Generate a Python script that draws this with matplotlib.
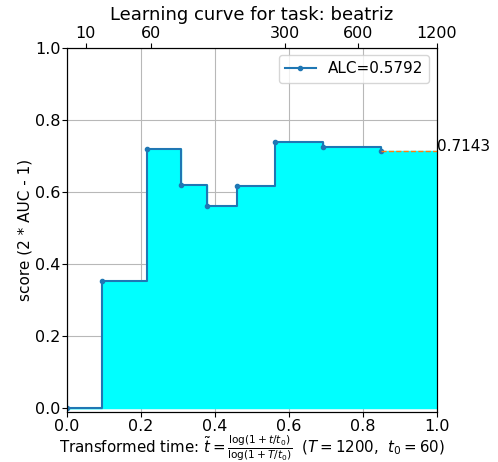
import numpy as np
import matplotlib
matplotlib.use('Agg')
import matplotlib.pyplot as plt

# Learning curve data (transformed time, score)
task_name = 'beatriz'
time_budget = 1200
t0 = 60
x_steps = [0.0, 0.0946, 0.2154, 0.308, 0.3776, 0.4595, 0.562, 0.691, 0.848]
y_steps = [0.0, 0.354, 0.720, 0.618, 0.560, 0.616, 0.738, 0.7246, 0.7143]
alc = 0.5792
top_ticks = [10, 60, 300, 600, 1200]


def transform(t):
    return np.log(1 + t / t0) / np.log(1 + time_budget / t0)


# Add a point on the final line using last prediction
X = x_steps + [1.0]
Y = y_steps + [y_steps[-1]]

fig = plt.figure(figsize=(4.98, 4.62), dpi=100)
ax = fig.add_axes([0.1345, 0.1089, 0.743, 0.7878])

ax.plot(X[:-1], Y[:-1], drawstyle='steps-post', marker='o', markersize=3,
        label='ALC={:.4f}'.format(alc))
ax.fill_between(X, Y, color='cyan', step='post')
ax.text(X[-1], Y[-1], '{:.4f}'.format(Y[-1]), fontsize=11)
# dotted line from last prediction
ax.plot(X[-2:], Y[-2:], linestyle='--', linewidth=1)

ax.set_xlim(left=0, right=1)
ax.set_ylim(bottom=-0.01, top=1)
ax.set_axisbelow(True)
ax.grid(True, color='#b8b8b8')
ax.tick_params(axis='y', labelsize=11.5, pad=1)
ax.tick_params(axis='x', labelsize=11.5, pad=1.5)
ax.legend(fontsize=11)

xlabel = ('Transformed time: '
          + r'$\tilde{t} = \frac{\log (1 + t / t_0)}{ \log (1 + T / t_0)}$ '
          + ' ($T = ' + str(int(time_budget)) + '$, '
          + ' $t_0 = ' + str(int(t0)) + '$)')
ax.set_xlabel(xlabel, fontsize=10.8, labelpad=0)
ax.set_ylabel('score (2 * AUC - 1)', fontsize=11, labelpad=2)

# second axis at the top with real time
ax2 = ax.twiny()
ax2.set_xticks([transform(t) for t in top_ticks])
ax2.set_xticklabels(top_ticks)
ax2.set_xlim(left=0, right=1)
ax2.tick_params(labelsize=11.5, pad=1.5)
ax2.set_title('Learning curve for task: {}'.format(task_name), fontsize=13, pad=4)

fig.savefig('out.png', dpi=100)
